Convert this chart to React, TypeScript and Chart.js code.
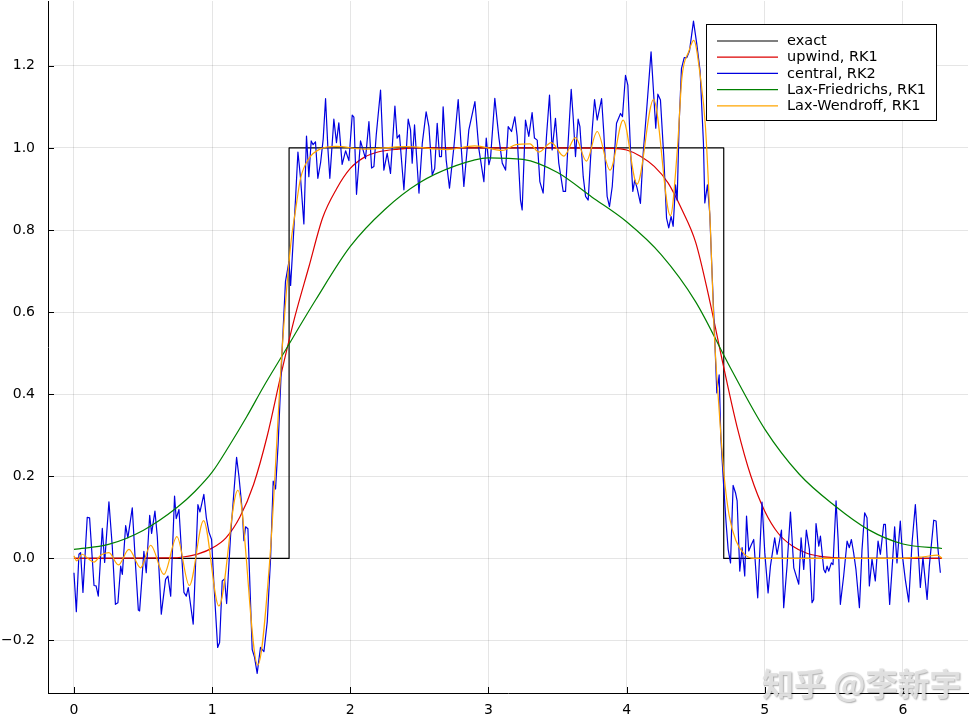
import React, { useEffect, useRef } from "react";
import { Chart, registerables } from "chart.js";

Chart.register(...registerables);

// ---------- data ----------
const xTicks = [0, 1, 2, 3, 4, 5, 6];
const yTicks = [-0.2, 0, 0.2, 0.4, 0.6, 0.8, 1.0, 1.2];

const seriesNames = ["exact", "upwind, RK1", "central, RK2", "Lax-Friedrichs, RK1", "Lax-Wendroff, RK1"];
const seriesColors = ["#000000", "#dd0000", "#0000e0", "#008000", "#ffa500"];

const exactX = [0, 1.557, 1.557, 4.703, 4.703, 6.283];
const exactY = [0, 0, 1, 1, 0, 0];

const upwindX = [0, 0.7, 0.8, 0.9, 1.0, 1.1, 1.2, 1.3, 1.4, 1.5,
  1.6, 1.7, 1.8, 1.9, 2.0, 2.1, 2.2, 2.35, 2.5, 3.0,
  3.5, 3.9, 4.0, 4.1, 4.2, 4.3, 4.4, 4.5, 4.6, 4.7,
  4.8, 4.9, 5.0, 5.1, 5.2, 5.3, 5.4, 5.5, 5.6, 6.283];
const upwindY = [0, 0.001, 0.004, 0.011, 0.025, 0.05, 0.1, 0.18, 0.3, 0.45,
  0.59, 0.71, 0.83, 0.9, 0.95, 0.977, 0.99, 0.997, 1.0, 1.0,
  1.0, 0.999, 0.995, 0.98, 0.955, 0.915, 0.85, 0.77, 0.63, 0.47,
  0.32, 0.2, 0.115, 0.06, 0.03, 0.013, 0.005, 0.002, 0.0, 0.0];

const centralX = [
  0, 0.017, 0.036, 0.048, 0.065, 0.096, 0.113, 0.145, 0.16, 0.176,
  0.205, 0.222, 0.253, 0.277, 0.30, 0.318, 0.338, 0.35, 0.374, 0.39,
  0.422, 0.446, 0.466, 0.475, 0.506, 0.523, 0.548, 0.562, 0.586, 0.603,
  0.632, 0.663, 0.68, 0.70, 0.728, 0.74, 0.76, 0.796, 0.813, 0.827,
  0.863, 0.897, 0.912, 0.94, 0.958, 0.977, 0.996, 1.013, 1.04, 1.054,
  1.073, 1.09, 1.105, 1.134, 1.177, 1.194, 1.218, 1.23, 1.242, 1.259,
  1.29, 1.307, 1.326, 1.35, 1.375, 1.399, 1.423, 1.442, 1.459, 1.478,
  1.507, 1.531, 1.556, 1.568, 1.587, 1.604, 1.621, 1.64, 1.664, 1.683,
  1.70, 1.717, 1.731, 1.748, 1.765, 1.785, 1.804, 1.821, 1.838, 1.852,
  1.881, 1.90, 1.917, 1.941, 1.966, 1.99, 2.014, 2.026, 2.045, 2.074,
  2.11, 2.135, 2.154, 2.171, 2.188, 2.219, 2.243, 2.267, 2.291, 2.323,
  2.339, 2.356, 2.388, 2.419, 2.436, 2.448, 2.465, 2.497, 2.521, 2.549,
  2.569, 2.593, 2.611, 2.629, 2.646, 2.66, 2.672, 2.694, 2.718, 2.75,
  2.781, 2.805, 2.822, 2.858, 2.902, 2.93, 2.967, 2.984, 3.003, 3.015,
  3.046, 3.076, 3.10, 3.124, 3.143, 3.167, 3.191, 3.208, 3.232, 3.244,
  3.268, 3.292, 3.316, 3.333, 3.353, 3.372, 3.396, 3.42, 3.442, 3.461,
  3.485, 3.509, 3.541, 3.558, 3.575, 3.599, 3.613, 3.63, 3.649, 3.662,
  3.686, 3.703, 3.722, 3.751, 3.768, 3.787, 3.819, 3.835, 3.859, 3.876,
  3.896, 3.927, 3.956, 3.97, 3.992, 4.009, 4.028, 4.045, 4.059, 4.076,
  4.10, 4.12, 4.144, 4.177, 4.197, 4.211, 4.226, 4.245, 4.269, 4.289,
  4.305, 4.322, 4.337, 4.354, 4.366, 4.38, 4.397, 4.417, 4.436, 4.455,
  4.484, 4.508, 4.532, 4.556, 4.566, 4.585, 4.602, 4.617, 4.633, 4.653,
  4.67, 4.682, 4.701, 4.72, 4.735, 4.752, 4.771, 4.788, 4.80, 4.819,
  4.836, 4.855, 4.868, 4.884, 4.901, 4.92, 4.949, 4.98, 5.0, 5.024,
  5.041, 5.072, 5.089, 5.121, 5.137, 5.161, 5.186, 5.21, 5.246, 5.263,
  5.282, 5.301, 5.323, 5.342, 5.354, 5.371, 5.391, 5.403, 5.427, 5.439,
  5.451, 5.463, 5.482, 5.494, 5.516, 5.531, 5.547, 5.571, 5.596, 5.612,
  5.627, 5.643, 5.66, 5.685, 5.704, 5.723, 5.74, 5.757, 5.776, 5.80,
  5.82, 5.837, 5.861, 5.873, 5.885, 5.904, 5.926, 5.94, 5.957, 5.981,
  5.998, 6.017, 6.042, 6.066, 6.09, 6.109, 6.126, 6.145, 6.175, 6.191,
  6.223, 6.24, 6.254, 6.271];
const centralY = [
  -0.035, -0.13, 0.01, 0.014, -0.083, 0.10, 0.099, -0.066, -0.067, -0.092,
  0.073, -0.01, 0.138, 0.03, -0.112, -0.108, -0.019, -0.039, 0.08, 0.05,
  0.123, -0.019, -0.126, -0.128, 0.017, -0.035, 0.105, 0.061, 0.115, 0.054,
  -0.136, -0.051, -0.043, -0.092, 0.152, 0.097, 0.119, -0.083, -0.092, -0.071,
  -0.16, 0.131, 0.113, 0.156, 0.099, 0.064, 0.046, -0.063, -0.217, -0.205,
  -0.055, -0.05, -0.11, 0.058, 0.246, 0.2, 0.116, 0.043, 0.077, 0.072,
  -0.222, -0.241, -0.28, -0.217, -0.227, -0.154, 0.0, 0.188, 0.169, 0.28,
  0.511, 0.675, 0.723, 0.665, 0.776, 0.878, 0.99, 0.926, 0.815, 1.029,
  0.93, 1.017, 1.008, 1.015, 0.926, 0.964, 1.022, 1.12, 0.998, 0.926,
  1.07, 1.013, 1.061, 0.96, 0.993, 0.969, 1.08, 1.075, 0.887, 1.017,
  0.974, 1.064, 0.951, 0.955, 1.032, 1.141, 0.946, 0.987, 0.938, 1.102,
  1.024, 1.032, 0.898, 1.07, 1.044, 0.963, 1.056, 0.89, 1.011, 1.088,
  1.052, 0.934, 0.95, 1.06, 0.979, 0.979, 1.1, 0.971, 0.902, 1.003,
  1.118, 0.991, 0.906, 1.044, 1.113, 0.999, 0.918, 1.024, 0.959, 0.975,
  1.121, 1.024, 0.963, 0.946, 1.052, 1.04, 1.076, 1.028, 0.873, 0.849,
  1.068, 1.028, 1.086, 1.024, 1.019, 0.918, 0.89, 1.028, 1.129, 0.995,
  1.072, 0.963, 0.894, 0.894, 1.003, 1.143, 1.076, 0.979, 1.07, 1.052,
  0.93, 0.882, 0.873, 1.044, 1.118, 1.068, 1.12, 1.036, 0.882, 0.857,
  0.906, 1.06, 1.084, 1.076, 1.177, 1.153, 0.995, 0.894, 0.922, 0.902,
  0.865, 0.987, 1.088, 1.234, 1.125, 1.048, 1.131, 1.117, 0.979, 0.829,
  0.805, 0.833, 0.809, 0.91, 0.873, 1.057, 1.193, 1.22, 1.22, 1.236,
  1.309, 1.253, 1.187, 1.013, 0.866, 0.91, 0.839, 0.708, 0.577, 0.403,
  0.447, 0.294, 0.185, 0.087, 0.022, -0.011, 0.178, 0.16, 0.14, -0.031,
  0.026, -0.043, 0.103, 0.018, 0.032, 0.046, -0.096, 0.137, 0.014, -0.084,
  -0.019, 0.05, 0.01, 0.069, -0.12, -0.019, 0.113, -0.023, -0.063, 0.05,
  -0.027, 0.069, 0.022, -0.108, -0.1, 0.085, 0.03, 0.054, -0.027, -0.035,
  -0.019, -0.031, -0.011, -0.015, 0.14, 0.046, -0.112, -0.043, 0.042, 0.026,
  0.046, 0.014, -0.027, -0.12, 0.022, 0.111, 0.099, -0.067, -0.002, -0.055,
  0.042, 0.01, 0.083, 0.083, 0.006, -0.112, -0.002, 0.077, -0.011, 0.091,
  0.002, -0.051, -0.106, 0.038, 0.131, 0.03, -0.071, 0.002, -0.1, -0.019,
  0.093, 0.091, 0.022, -0.035];

const laxFriedrichsX = [0, 0.25, 0.5, 0.75, 0.875, 1.0, 1.125, 1.25, 1.375, 1.5,
  1.75, 2.0, 2.25, 2.5, 2.75, 3.0, 3.25, 3.5, 3.75, 4.0,
  4.25, 4.5, 4.75, 5.0, 5.25, 5.5, 5.75, 6.0, 6.283];
const laxFriedrichsY = [0.022, 0.034, 0.068, 0.125, 0.163, 0.21, 0.275, 0.345, 0.42, 0.49,
  0.63, 0.76, 0.85, 0.915, 0.955, 0.976, 0.972, 0.94, 0.88, 0.82,
  0.74, 0.625, 0.465, 0.315, 0.205, 0.13, 0.07, 0.035, 0.024];

const laxWendroffX = [0, 0.02, 0.06, 0.1, 0.145, 0.195, 0.253, 0.321, 0.398, 0.482,
  0.555, 0.651, 0.745, 0.835, 0.938, 1.049, 1.186, 1.33, 1.418, 1.507,
  1.568, 1.604, 1.64, 1.7, 1.785, 1.9, 2.1, 2.4, 2.7, 2.9,
  3.1, 3.2, 3.3, 3.364, 3.455, 3.545, 3.63, 3.709, 3.787, 3.88,
  3.975, 4.076, 4.195, 4.317, 4.368, 4.40, 4.45, 4.486, 4.535, 4.571,
  4.607, 4.633, 4.67, 4.706, 4.742, 4.79, 4.85, 4.923, 5.1, 5.5,
  6.0, 6.15, 6.25, 6.283];
const laxWendroffY = [0.006, -0.006, 0.01, 0.0, -0.009, 0.008, 0.014, -0.016, 0.022, -0.023,
  0.032, -0.039, 0.053, -0.066, 0.092, -0.116, 0.166, -0.26, 0.0, 0.511,
  0.762, 0.849, 0.926, 0.974, 0.998, 1.004, 0.997, 1.003, 0.996, 1.005,
  0.994, 1.008, 1.01, 0.99, 1.013, 0.98, 1.025, 0.968, 1.04, 0.946,
  1.068, 0.912, 1.118, 0.835, 1.0, 1.17, 1.235, 1.262, 1.17, 1.05,
  0.8, 0.56, 0.36, 0.2, 0.105, 0.044, 0.011, 0.0, 0.0, 0.0,
  0.0, 0.004, 0.008, 0.0];

// ---------- helpers ----------
const W = 970;
const H = 723;
const FONT = '"DejaVu Sans", "Liberation Sans", sans-serif';

function pts(xs: number[], ys: number[]) {
  const n = Math.min(xs.length, ys.length);
  const out: { x: number; y: number }[] = [];
  for (let i = 0; i < n; i++) out.push({ x: xs[i], y: ys[i] });
  return out;
}

function fmtY(v: number) {
  const s = Math.abs(v).toFixed(1);
  return v < -1e-9 ? "\u2212" + s : s;
}

const tickMarksPlugin = {
  id: "innerTicks",
  afterDatasetsDraw(chart: any) {
    const { ctx, chartArea, scales } = chart;
    ctx.save();
    ctx.strokeStyle = "#000";
    ctx.lineWidth = 1;
    ctx.beginPath();
    for (const v of yTicks) {
      const p = Math.round(scales.y.getPixelForValue(v)) + 0.5;
      ctx.moveTo(chartArea.left, p);
      ctx.lineTo(chartArea.left + 6, p);
    }
    for (const v of xTicks) {
      const p = Math.round(scales.x.getPixelForValue(v)) + 0.5;
      ctx.moveTo(p, chartArea.bottom);
      ctx.lineTo(p, chartArea.bottom - 6);
    }
    ctx.stroke();
    ctx.restore();
  },
};

const legendPlugin = {
  id: "boxLegend",
  afterDraw(chart: any) {
    const { ctx } = chart;
    const bx = 706.5, by = 24.5, bw = 230, bh = 96;
    ctx.save();
    ctx.fillStyle = "#ffffff";
    ctx.fillRect(bx, by, bw, bh);
    ctx.strokeStyle = "#000";
    ctx.lineWidth = 1;
    ctx.strokeRect(bx, by, bw, bh);
    ctx.font = `14.5px ${FONT}`;
    ctx.textBaseline = "middle";
    ctx.textAlign = "left";
    seriesNames.forEach((name, i) => {
      const y = 41 + i * 16.2;
      ctx.strokeStyle = seriesColors[i];
      ctx.lineWidth = 1.2;
      ctx.beginPath();
      ctx.moveTo(717, y);
      ctx.lineTo(778, y);
      ctx.stroke();
      ctx.fillStyle = "#000";
      ctx.fillText(name, 787, y + 0.5);
    });
    ctx.restore();
  },
};

const watermarkPlugin = {
  id: "watermark",
  afterDraw(chart: any) {
    const { ctx } = chart;
    ctx.save();
    ctx.font = `bold 32px "Noto Sans CJK SC", sans-serif`;
    ctx.textBaseline = "alphabetic";
    ctx.textAlign = "left";
    ctx.shadowColor = "rgba(0,0,0,0.35)";
    ctx.shadowOffsetX = 1;
    ctx.shadowOffsetY = 1;
    ctx.shadowBlur = 1.5;
    ctx.fillStyle = "rgba(225,225,225,0.95)";
    ctx.fillText("知乎 @李新宇", 762, 696);
    ctx.restore();
  },
};

export default function App() {
  const ref = useRef<HTMLCanvasElement | null>(null);

  useEffect(() => {
    const canvas = ref.current;
    if (!canvas) return;
    const lw = 1.2;
    const chart = new Chart(canvas, {
      type: "line",
      data: {
        datasets: [
          { label: seriesNames[0], data: pts(exactX, exactY), borderColor: seriesColors[0], borderWidth: lw, tension: 0, order: 5, pointRadius: 0, fill: false },
          { label: seriesNames[1], data: pts(upwindX, upwindY), borderColor: seriesColors[1], borderWidth: lw, cubicInterpolationMode: "monotone", order: 4, pointRadius: 0, fill: false },
          { label: seriesNames[2], data: pts(centralX, centralY), borderColor: seriesColors[2], borderWidth: lw, tension: 0, order: 3, pointRadius: 0, fill: false },
          { label: seriesNames[3], data: pts(laxFriedrichsX, laxFriedrichsY), borderColor: seriesColors[3], borderWidth: lw, cubicInterpolationMode: "monotone", order: 2, pointRadius: 0, fill: false },
          { label: seriesNames[4], data: pts(laxWendroffX, laxWendroffY), borderColor: seriesColors[4], borderWidth: lw, cubicInterpolationMode: "monotone", order: 1, pointRadius: 0, fill: false },
        ] as any,
      },
      options: {
        responsive: false,
        maintainAspectRatio: false,
        animation: false,
        devicePixelRatio: 1,
        parsing: false as any,
        layout: { padding: { left: 0, right: 2, top: 1, bottom: 0 } },
        plugins: { legend: { display: false }, tooltip: { enabled: false } },
        elements: { point: { radius: 0 }, line: { borderCapStyle: "butt", borderJoinStyle: "round" } },
        scales: {
          x: {
            type: "linear",
            min: -0.188,
            max: 6.471,
            afterBuildTicks: (s: any) => { s.ticks = xTicks.map((v) => ({ value: v })); },
            afterFit: (s: any) => {
              s.height = 30;
              s.paddingLeft = 0; s.paddingRight = 0; s.paddingTop = 0; s.paddingBottom = 0;
            },
            grid: { color: "rgba(0,0,0,0.1)", lineWidth: 1, drawTicks: false },
            border: { display: true, color: "#000", width: 1 },
            ticks: {
              autoSkip: false,
              maxRotation: 0,
              padding: 9,
              color: "#000",
              font: { family: FONT, size: 14 },
              callback: (v: any) => String(v),
            },
          },
          y: {
            type: "linear",
            min: -0.328,
            max: 1.358,
            afterBuildTicks: (s: any) => { s.ticks = yTicks.map((v) => ({ value: v })); },
            afterFit: (s: any) => {
              s.width = 48;
              s.paddingLeft = 0; s.paddingRight = 0; s.paddingTop = 0; s.paddingBottom = 0;
            },
            grid: { color: "rgba(0,0,0,0.1)", lineWidth: 1, drawTicks: false },
            border: { display: true, color: "#000", width: 1 },
            ticks: {
              autoSkip: false,
              padding: 13,
              color: "#000",
              font: { family: FONT, size: 14 },
              callback: (v: any) => fmtY(Number(v)),
            },
          },
        },
      } as any,
      plugins: [tickMarksPlugin, legendPlugin, watermarkPlugin],
    });
    return () => chart.destroy();
  }, []);

  return (
    <div style={{ position: "absolute", left: 0, top: 0, width: W, height: H, background: "#fff" }}>
      <canvas ref={ref} width={W} height={H} style={{ display: "block" }} />
    </div>
  );
}
